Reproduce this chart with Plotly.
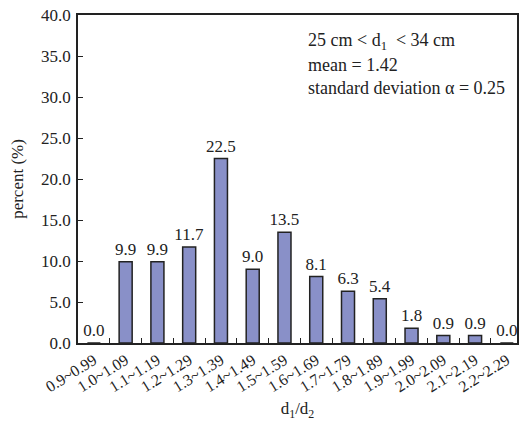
import plotly.graph_objects as go

categories = ["0.9~0.99", "1.0~1.09", "1.1~1.19", "1.2~1.29", "1.3~1.39", "1.4~1.49",
              "1.5~1.59", "1.6~1.69", "1.7~1.79", "1.8~1.89", "1.9~1.99", "2.0~2.09",
              "2.1~2.19", "2.2~2.29"]
percent = [0.0, 9.9, 9.9, 11.7, 22.5, 9.0, 13.5, 8.1, 6.3, 5.4, 1.8, 0.9, 0.9, 0.0]
info_lines = ["25 cm &lt; d<sub>1</sub>  &lt; 34 cm", "mean = 1.42",
              "standard deviation α = 0.25"]

FONT = "Liberation Serif, Times New Roman, serif"

fig = go.Figure()
fig.add_trace(go.Bar(
    x=categories, y=percent,
    marker=dict(color="#8990c8", line=dict(color="#222222", width=1.5)),
    text=[f"{v:.1f}" for v in percent], textposition="outside",
    constraintext="none",
    textfont=dict(family=FONT, size=17, color="#222222"),
    cliponaxis=False,
))

L, R, T, B = 78, 6, 13, 75
W, H = 525, 421
ph = H - T - B
for i, line in enumerate(info_lines):
    ypx = [40, 64, 87][i]
    fig.add_annotation(text=line, xref="paper", yref="paper",
                       x=(307 - L) / (W - L - R), y=(H - B - ypx) / ph,
                       xanchor="left", yanchor="middle", showarrow=False,
                       font=dict(family=FONT, size=18, color="#222222"))

fig.update_layout(
    width=W, height=H, margin=dict(l=L, r=R, t=T, b=B),
    plot_bgcolor="white", paper_bgcolor="white",
    bargap=0.59, showlegend=False,
    font=dict(family=FONT, size=17, color="#222222"),
)
fig.update_xaxes(
    range=[-0.5, 13.32], showline=True, linecolor="#222222", linewidth=1.5, mirror=True,
    ticks="inside", tickson="boundaries", ticklen=5, tickcolor="#222222",
    tickangle=-32, tickfont=dict(family=FONT, size=16),
    title=dict(text="d<sub>1</sub>/d<sub>2</sub>", font=dict(family=FONT, size=17), standoff=8),
    showgrid=False,
)
fig.update_yaxes(
    range=[0, 40], dtick=5, tickformat=".1f", showline=True, linecolor="#222222",
    linewidth=1.5, mirror=True, ticks="inside", ticklen=5, tickcolor="#222222",
    tickfont=dict(family=FONT, size=17), showgrid=False, zeroline=False,
    ticklabelstandoff=2,
    title=dict(text="percent (%)", font=dict(family=FONT, size=17), standoff=13),
)

fig.write_html("out.html")
